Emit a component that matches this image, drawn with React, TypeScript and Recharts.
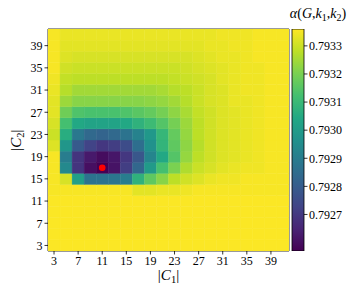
import React from 'react'
import { ScatterChart, Scatter, XAxis, YAxis, ReferenceArea, ComposedChart, Bar } from 'recharts'

const K1 = [3, 5, 7, 9, 11, 13, 15, 17, 19, 21, 23, 25, 27, 29, 31, 33, 35, 37, 39, 41]
const K2 = [3, 5, 7, 9, 11, 13, 15, 17, 19, 21, 23, 25, 27, 29, 31, 33, 35, 37, 39, 41]
const X_TICKS = [3, 7, 11, 15, 19, 23, 27, 31, 35, 39]
const Y_TICKS = [3, 7, 11, 15, 19, 23, 27, 31, 35, 39]
const CB_TICKS = [0.7927, 0.7928, 0.7929, 0.793, 0.7931, 0.7932, 0.7933]
const CB_MIN = 0.79257
const CB_MAX = 0.79336
const BEST = [{ k1: 11, k2: 17 }]

// alpha(G, k1, k2), one row per |C2|, columns follow K1
const A41 = [0.793352, 0.793336, 0.793336, 0.793336, 0.793336, 0.793336, 0.793336, 0.793336, 0.793336, 0.793336, 0.793336, 0.793336, 0.793336, 0.793336, 0.793344, 0.793344, 0.793344, 0.793352, 0.793352, 0.793352]
const A39 = [0.793352, 0.793328, 0.793328, 0.793328, 0.793328, 0.793328, 0.793328, 0.793328, 0.793328, 0.793328, 0.793328, 0.793328, 0.793328, 0.793336, 0.793336, 0.793344, 0.793344, 0.793352, 0.793352, 0.793352]
const A37 = [0.793352, 0.793321, 0.793313, 0.793313, 0.793313, 0.793313, 0.793313, 0.793313, 0.793313, 0.793313, 0.793313, 0.793313, 0.793321, 0.793328, 0.793336, 0.793336, 0.793344, 0.793352, 0.793352, 0.793352]
const A35 = [0.793352, 0.793305, 0.793297, 0.793297, 0.793297, 0.793297, 0.793297, 0.793297, 0.793297, 0.793297, 0.793297, 0.793305, 0.793313, 0.793321, 0.793328, 0.793336, 0.793344, 0.793344, 0.793352, 0.793352]
const A33 = [0.793344, 0.793289, 0.793281, 0.793281, 0.793281, 0.793281, 0.793281, 0.793281, 0.793281, 0.793281, 0.793289, 0.793297, 0.793305, 0.793313, 0.793328, 0.793336, 0.793344, 0.793344, 0.793352, 0.793352]
const A31 = [0.793336, 0.793273, 0.793249, 0.793249, 0.793249, 0.793249, 0.793249, 0.793249, 0.793249, 0.793257, 0.793273, 0.793281, 0.793297, 0.793313, 0.793321, 0.793336, 0.793344, 0.793344, 0.793352, 0.793352]
const A29 = [0.793328, 0.793242, 0.793218, 0.793218, 0.793218, 0.793218, 0.793218, 0.793218, 0.793226, 0.793234, 0.793249, 0.793273, 0.793297, 0.793313, 0.793321, 0.793336, 0.793336, 0.793344, 0.793352, 0.793352]
const A27 = [0.793328, 0.793186, 0.793139, 0.793131, 0.793131, 0.793131, 0.793139, 0.793155, 0.79317, 0.793194, 0.793226, 0.793257, 0.793289, 0.793305, 0.793321, 0.793328, 0.793336, 0.793344, 0.793352, 0.793352]
const A25 = [0.793313, 0.793123, 0.793044, 0.793028, 0.793028, 0.793028, 0.793044, 0.793076, 0.793107, 0.793147, 0.793194, 0.793242, 0.793281, 0.793305, 0.793321, 0.793328, 0.793336, 0.793344, 0.793352, 0.793352]
const A23 = [0.793297, 0.79306, 0.792886, 0.792839, 0.792823, 0.792839, 0.79287, 0.792918, 0.792989, 0.793091, 0.79317, 0.793234, 0.793281, 0.793305, 0.793321, 0.793328, 0.793336, 0.793344, 0.793352, 0.793352]
const A21 = [0.793321, 0.792981, 0.792791, 0.792728, 0.792696, 0.792712, 0.792752, 0.792854, 0.792965, 0.793084, 0.793163, 0.793226, 0.793273, 0.793305, 0.793321, 0.793328, 0.793336, 0.793344, 0.793352, 0.793352]
const A19 = [0.793352, 0.792902, 0.792689, 0.792625, 0.792594, 0.792617, 0.792696, 0.792783, 0.792926, 0.793044, 0.793147, 0.793234, 0.793281, 0.793305, 0.793321, 0.793328, 0.793336, 0.793344, 0.793352, 0.793352]
const A17 = [0.793352, 0.792941, 0.792689, 0.792602, 0.79257, 0.79261, 0.792712, 0.792831, 0.792997, 0.793123, 0.793202, 0.793265, 0.793297, 0.793313, 0.793328, 0.793336, 0.793344, 0.793344, 0.793352, 0.793352]
const A15 = [0.793352, 0.793313, 0.793012, 0.79287, 0.79287, 0.792878, 0.792902, 0.793076, 0.793163, 0.793218, 0.793281, 0.793305, 0.793321, 0.793336, 0.793344, 0.793344, 0.793352, 0.793352, 0.793352, 0.793352]
const A13 = [0.793352, 0.793352, 0.793352, 0.793352, 0.793352, 0.793352, 0.793352, 0.793328, 0.793328, 0.793336, 0.793336, 0.793344, 0.793352, 0.793352, 0.793352, 0.793352, 0.793352, 0.793352, 0.793352, 0.793352]
const A11 = [0.793358, 0.793358, 0.793358, 0.793358, 0.793358, 0.793358, 0.793358, 0.793358, 0.793358, 0.793358, 0.793358, 0.793358, 0.793358, 0.793358, 0.793358, 0.793358, 0.793358, 0.793358, 0.793358, 0.793358]
const A09 = [0.793358, 0.793358, 0.793358, 0.793358, 0.793358, 0.793358, 0.793358, 0.793358, 0.793358, 0.793358, 0.793358, 0.793358, 0.793358, 0.793358, 0.793358, 0.793358, 0.793358, 0.793358, 0.793358, 0.793358]
const A07 = [0.793358, 0.793358, 0.793358, 0.793358, 0.793358, 0.793358, 0.793358, 0.793358, 0.793358, 0.793358, 0.793358, 0.793358, 0.793358, 0.793358, 0.793358, 0.793358, 0.793358, 0.793358, 0.793358, 0.793358]
const A05 = [0.793358, 0.793358, 0.793358, 0.793358, 0.793358, 0.793358, 0.793358, 0.793358, 0.793358, 0.793358, 0.793358, 0.793358, 0.793358, 0.793358, 0.793358, 0.793358, 0.793358, 0.793358, 0.793358, 0.793358]
const A03 = [0.793358, 0.793358, 0.793358, 0.793358, 0.793358, 0.793358, 0.793358, 0.793358, 0.793358, 0.793358, 0.793358, 0.793358, 0.793358, 0.793358, 0.793358, 0.793358, 0.793358, 0.793358, 0.793358, 0.793358]

// same order as K2
const ALPHA_ROWS = [A03, A05, A07, A09, A11, A13, A15, A17, A19, A21, A23, A25, A27, A29, A31, A33, A35, A37, A39, A41]

const VIRIDIS = ['#440154', '#482475', '#414487', '#355f8d', '#2a788e', '#21918c', '#22a884', '#44bf70', '#7ad151', '#bddf26', '#fde725']
const FONT = '"Liberation Serif", "DejaVu Serif", serif'

const W = 357
const H = 297
const PLOT_TOP = 29
const PLOT_BOTTOM = 46
const Y_AXIS_W = 48
const RIGHT_GAP = 68
const CELL_W = (W - Y_AXIS_W - RIGHT_GAP) / K1.length
const CELL_H = (H - PLOT_TOP - PLOT_BOTTOM) / K2.length

function hex(c: string) {
  return [1, 3, 5].map(i => parseInt(c.slice(i, i + 2), 16))
}

function viridis(t: number) {
  const p = Math.min(1, Math.max(0, t)) * (VIRIDIS.length - 1)
  const i = Math.min(VIRIDIS.length - 2, Math.floor(p))
  const f = p - i
  const a = hex(VIRIDIS[i])
  const b = hex(VIRIDIS[i + 1])
  const m = a.map((v, j) => Math.round(v + (b[j] - v) * f))
  return `rgb(${m[0]},${m[1]},${m[2]})`
}

const cells = K2.flatMap((k2, r) => K1.map((k1, c) => ({ k1, k2, v: ALPHA_ROWS[r][c] })))

const HeatCell = (props: any) => {
  const { cx, cy, payload } = props
  const color = viridis((payload.v - CB_MIN) / (CB_MAX - CB_MIN))
  return (
    <rect
      x={cx - CELL_W / 2}
      y={cy - CELL_H / 2}
      width={CELL_W}
      height={CELL_H}
      fill={color}
      stroke={color}
      strokeWidth={0.4}
    />
  )
}

const BestDot = (props: any) => <circle cx={props.cx} cy={props.cy} r={3.3} fill="#ff0000" />

const XTitle = (props: any) => {
  const vb = props.viewBox
  return (
    <text x={vb.x + vb.width / 2} y={vb.y + 29} textAnchor="middle" fontFamily={FONT} fontSize={15} fill="#000">
      |<tspan fontStyle="italic">C</tspan>
      <tspan fontSize={10.5} dy={3}>1</tspan>
      <tspan dy={-3}>|</tspan>
    </text>
  )
}

const YTitle = (props: any) => {
  const vb = props.viewBox
  const x = 21
  const y = vb.y + vb.height / 2
  return (
    <text x={x} y={y} transform={`rotate(-90 ${x} ${y})`} textAnchor="middle" fontFamily={FONT} fontSize={15} fill="#000">
      |<tspan fontStyle="italic">C</tspan>
      <tspan fontSize={10.5} dy={3}>2</tspan>
      <tspan dy={-3}>|</tspan>
    </text>
  )
}

const CbTitle = (props: any) => {
  const vb = props.viewBox
  return (
    <text x={vb.x + 14} y={vb.y - 11} textAnchor="middle" fontFamily={FONT} fontSize={14} fill="#000">
      <tspan fontStyle="italic">α</tspan>(<tspan fontStyle="italic">G</tspan>,<tspan fontStyle="italic">k</tspan>
      <tspan fontSize={10} dy={3}>1</tspan>
      <tspan dy={-3}>,</tspan>
      <tspan fontStyle="italic">k</tspan>
      <tspan fontSize={10} dy={3}>2</tspan>
      <tspan dy={-3}>)</tspan>
    </text>
  )
}

const tickStyle = { fontSize: 12, fill: '#000', fontFamily: FONT }

export default function App() {
  return (
    <div style={{ position: 'absolute', left: 0, top: 0, width: W, height: H, background: '#fff' }}>
      <div style={{ position: 'absolute', left: 0, top: 0 }}>
        <ScatterChart width={W} height={H} margin={{ top: PLOT_TOP, right: RIGHT_GAP, bottom: 0, left: 0 }}>
          <XAxis
            type="number"
            dataKey="k1"
            domain={[2, 42]}
            ticks={X_TICKS}
            interval={0}
            height={PLOT_BOTTOM}
            tick={tickStyle}
            tickLine={{ stroke: '#000', strokeWidth: 0.8 }}
            tickSize={3.5}
            tickMargin={2}
            axisLine={false}
            allowDataOverflow
            label={<XTitle />}
          />
          <YAxis
            type="number"
            dataKey="k2"
            domain={[2, 42]}
            ticks={Y_TICKS}
            interval={0}
            width={Y_AXIS_W}
            tick={tickStyle}
            tickLine={{ stroke: '#000', strokeWidth: 0.8 }}
            tickSize={3.5}
            tickMargin={2}
            axisLine={false}
            allowDataOverflow
            label={<YTitle />}
          />
          <Scatter data={cells} shape={<HeatCell />} isAnimationActive={false} />
          <Scatter data={BEST} shape={<BestDot />} isAnimationActive={false} />
          <ReferenceArea x1={2} x2={42} y1={2} y2={42} fill="none" stroke="#000" strokeWidth={0.8} ifOverflow="visible" />
        </ScatterChart>
      </div>
      <div style={{ position: 'absolute', left: 270, top: 0 }}>
        <ComposedChart
          width={87}
          height={H}
          data={[{ name: 'cb', span: [CB_MIN, CB_MAX] }]}
          margin={{ top: PLOT_TOP, right: 0, bottom: PLOT_BOTTOM, left: 22 }}
          barCategoryGap={0}
        >
          <defs>
            <linearGradient id="viridisBar" x1="0" y1="1" x2="0" y2="0">
              {VIRIDIS.map((c, i) => (
                <stop key={c} offset={`${(i / (VIRIDIS.length - 1)) * 100}%`} stopColor={c} />
              ))}
            </linearGradient>
          </defs>
          <XAxis dataKey="name" hide />
          <YAxis
            orientation="right"
            type="number"
            domain={[CB_MIN, CB_MAX]}
            ticks={CB_TICKS}
            interval={0}
            width={53}
            tick={tickStyle}
            tickFormatter={(v: number) => v.toFixed(4)}
            tickLine={{ stroke: '#000', strokeWidth: 0.8 }}
            tickSize={3.5}
            tickMargin={1.5}
            axisLine={false}
            allowDataOverflow
            label={<CbTitle />}
          />
          <Bar dataKey="span" fill="url(#viridisBar)" stroke="#000" strokeWidth={0.8} isAnimationActive={false} />
        </ComposedChart>
      </div>
    </div>
  )
}
